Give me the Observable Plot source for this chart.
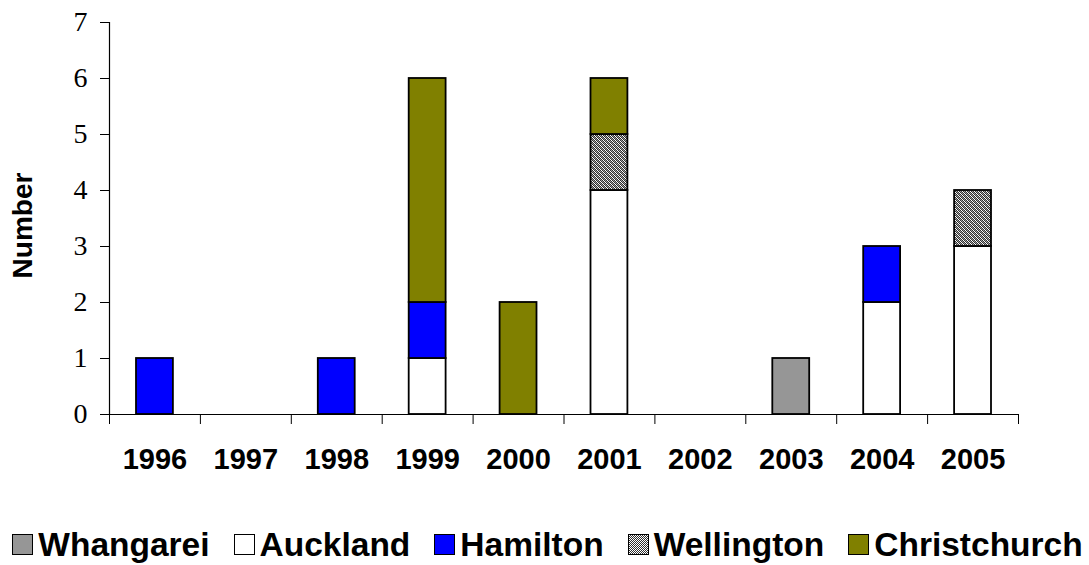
<!DOCTYPE html>
<html>
<head>
<meta charset="utf-8">
<script src="https://cdn.jsdelivr.net/npm/d3@7"></script>
<script src="https://cdn.jsdelivr.net/npm/@observablehq/plot@0.6"></script>
<style>
  html, body { margin: 0; padding: 0; background: #fff; }
  #chart svg { display: block; }
  #legend {
    display: flex; justify-content: center; align-items: center;
    font-family: "Liberation Sans", Arial, sans-serif; font-weight: bold;
    font-size: 33.5px; color: #000; height: 85px; padding-top: 44px; box-sizing: border-box;
    padding-left: 6px; white-space: nowrap;
  }
  .item { display: flex; align-items: center; margin: 0 12px; }
  .sw { width: 21px; height: 21px; border: 1.5px solid #000; margin-right: 5px; box-sizing: border-box; }
</style>
</head>
<body>
<div id="chart"></div>
<div id="legend"></div>
<script>
const years = [1996, 1997, 1998, 1999, 2000, 2001, 2002, 2003, 2004, 2005];
const cities = ["Whangarei", "Auckland", "Hamilton", "Wellington", "Christchurch"];
const whangarei    = [0, 0, 0, 0, 0, 0, 0, 1, 0, 0];
const auckland     = [0, 0, 0, 1, 0, 4, 0, 0, 2, 3];
const hamilton     = [1, 0, 1, 1, 0, 0, 0, 0, 1, 0];
const wellington   = [0, 0, 0, 0, 0, 1, 0, 0, 0, 1];
const christchurch = [0, 0, 0, 4, 2, 1, 0, 0, 0, 0];
const yTicks = [0, 1, 2, 3, 4, 5, 6, 7];
const colors = ["#969696", "#ffffff", "#0000ff", "url(#wellhatch)", "#808000"];

const series = [whangarei, auckland, hamilton, wellington, christchurch];
const rows = [];
series.forEach((vals, i) => {
  vals.forEach((v, j) => { if (v > 0) rows.push({year: years[j], city: cities[i], count: v}); });
});
const bounds = years.concat([years[years.length - 1] + 1]);
const mids = years.map(y => y + 0.5);

const chart = Plot.plot({
  width: 1089,
  height: 480,
  marginTop: 22,
  marginBottom: 66,
  marginLeft: 109,
  marginRight: 71,
  style: {background: "#fff", color: "#000"},
  x: {type: "linear", domain: [bounds[0], bounds[bounds.length - 1]]},
  y: {domain: [0, 7]},
  color: {domain: cities, range: colors},
  marks: [
    Plot.rectY(rows, {x: "year", interval: 1, y: "count", fill: "city", stroke: "#000", strokeWidth: 1.8, insetLeft: 27, insetRight: 27}),
    Plot.ruleX([bounds[0]], {y1: 0, y2: 7, stroke: "#000", strokeWidth: 1.2}),
    Plot.ruleY([0], {x1: bounds[0], x2: bounds[bounds.length - 1], stroke: "#000", strokeWidth: 1.2}),
    Plot.axisY({ticks: yTicks, tickSize: 9, tickPadding: 13, tickFormat: d3.format("d"), label: null, fontSize: 28, fontFamily: "Liberation Serif", stroke: "#000"}),
    Plot.axisX({ticks: bounds, tickSize: 10, tickFormat: () => "", label: null}),
    Plot.axisX({ticks: mids, tickSize: 0, tickPadding: 34, tickFormat: d => String(Math.round(d - 0.5)), label: null, fontSize: 29, fontWeight: "bold", fontFamily: "Liberation Sans"}),
    Plot.text(["Number"], {frameAnchor: "left", textAnchor: "middle", dx: -86, dy: 7, rotate: -90, fontSize: 28, fontWeight: "bold", fontFamily: "Liberation Sans", fill: "#000"})
  ]
});

// pattern definition for Wellington
const svg = d3.select(chart);
const defs = svg.insert("defs", ":first-child");
const pat = defs.append("pattern").attr("id", "wellhatch").attr("patternUnits", "userSpaceOnUse").attr("width", 4).attr("height", 4);
pat.append("rect").attr("width", 4).attr("height", 4).attr("fill", "#ffffff");
[[0,0],[2,0],[1,1],[3,1],[0,2],[2,2],[1,3],[3,3]].forEach(([x, y]) => pat.append("rect").attr("x", x).attr("y", y).attr("width", 1).attr("height", 1).attr("fill", "#303030"));
[[1,0],[2,1],[3,2],[0,3]].forEach(([x, y]) => pat.append("rect").attr("x", x).attr("y", y).attr("width", 1).attr("height", 1).attr("fill", "#a0a0a0"));

document.getElementById("chart").appendChild(chart);

const legend = d3.select("#legend");
cities.forEach((c, i) => {
  const it = legend.append("div").attr("class", "item");
  const sw = it.append("div").attr("class", "sw");
  if (colors[i].startsWith("url")) {
    sw.style("background", "repeating-conic-gradient(#303030 0 25%, #ffffff 0 50%) 0 0 / 2px 2px");
  } else {
    sw.style("background", colors[i]);
  }
  it.append("span").text(c);
});
</script>
</body>
</html>
